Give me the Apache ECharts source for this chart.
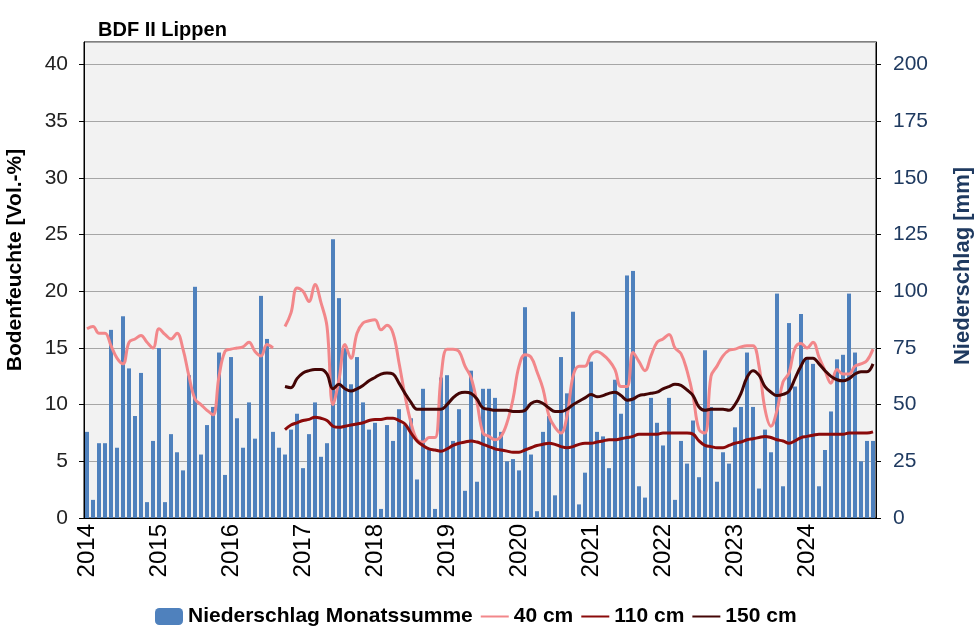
<!DOCTYPE html>
<html>
<head>
<meta charset="utf-8">
<title>BDF II Lippen</title>
<script src="https://cdn.jsdelivr.net/npm/echarts@6/dist/echarts.min.js"></script>
<style>
  html, body { margin: 0; padding: 0; background: #fff; }
  #chart { width: 977px; height: 631px; }
</style>
</head>
<body>
<div id="chart"></div>
<script>
var years = ['2014', '2015', '2016', '2017', '2018', '2019', '2020', '2021', '2022', '2023', '2024'];

// Niederschlag Monatssumme [mm], Jan 2014 .. Dez 2024
var niederschlag = [
  38, 8, 33, 33, 83, 31, 89, 66, 45, 64, 7, 34,
  75, 7, 37, 29, 21, 63, 102, 28, 41, 49, 73, 19,
  71, 44, 31, 51, 35, 98, 79, 38, 31, 28, 39, 46,
  22, 37, 51, 27, 33, 123, 97, 75, 59, 71, 51, 39,
  42, 4, 41, 34, 48, 41, 44, 17, 57, 30, 4, 62,
  63, 34, 48, 12, 65, 16, 57, 57, 53, 38, 25, 26,
  21, 93, 28, 3, 38, 45, 10, 71, 55, 91, 6, 20,
  69, 38, 36, 22, 61, 46, 107, 109, 14, 9, 53, 42,
  32, 53, 8, 34, 24, 43, 18, 74, 49, 16, 29, 24,
  40, 49, 73, 49, 13, 39, 29, 99, 14, 86, 58, 90,
  70, 68, 14, 30, 47, 70, 72, 99, 73, 25, 34, 34
];

// Bodenfeuchte [Vol.-%], Monatswerte, null = keine Messung
var cm40 = [
  16.7, 16.9, 16.3, 16.3, 15.2, 14.1, 13.6, 15.5, 15.8, 16.1, 15.5, 15.0,
  16.7, 16.2, 15.8, 16.3, 14.9, 12.5, 10.5, 10.0, 9.5, 9.1, 12.5, 14.7,
  14.9, 15.0, 15.1, 15.5, 14.7, 14.3, 15.3, 15.0, null, 16.9, 18.1, 20.3,
  20.0, 19.1, 20.6, 19.0, 16.9, 10.0, 12.2, 15.3, 14.1, 16.3, 17.2, 17.4,
  17.5, 16.6, 17.0, 16.3, 13.7, 10.8, 8.4, 6.9, 6.7, 7.1, 7.1, 12.4,
  14.9, 14.9, 14.7, 13.4, 12.4, 10.2, 7.5, 7.2, 6.9, 7.2, 8.4, 10.5,
  13.4, 14.4, 14.2, 12.9, 11.4, 9.0, 8.0, 7.5, 9.0, 12.5, 13.4, 13.4,
  14.4, 14.7, 14.4, 13.9, 13.1, 11.6, 11.6, 14.6, 13.8, 13.0, 14.3, 15.5,
  15.8, 16.2, 15.0, 14.5, 13.0, 10.8, 7.8, 7.5, 12.5, 13.4, 14.3, 14.8,
  14.9, 15.1, 15.2, 15.2, 13.4, 9.6, 8.1, 9.5, 12.0, 12.8, 15.0, 15.4,
  15.0, 15.5, 14.2, 13.0, 11.9, 13.1, 12.7, 12.7, 13.4, 13.6, 13.9, 14.9
];

var cm110 = [
  null, null, null, null, null, null, null, null, null, null, null, null,
  null, null, null, null, null, null, null, null, null, null, null, null,
  null, null, null, null, null, null, null, null, null, 7.8, 8.2, 8.4,
  8.6, 8.7, 8.9, 8.8, 8.6, 8.1, 8.0, 8.1, 8.2, 8.3, 8.4, 8.6,
  8.7, 8.7, 8.8, 8.8, 8.6, 8.3, 7.5, 6.8, 6.4, 6.1, 6.0, 5.9,
  6.1, 6.4, 6.6, 6.7, 6.8, 6.7, 6.5, 6.3, 6.1, 6.0, 5.9, 5.8,
  5.8, 6.0, 6.2, 6.4, 6.5, 6.6, 6.5, 6.3, 6.2, 6.3, 6.5, 6.6,
  6.6, 6.7, 6.8, 6.9, 6.9, 7.0, 7.1, 7.2, 7.4, 7.4, 7.4, 7.4,
  7.5, 7.5, 7.5, 7.5, 7.5, 7.4, 6.8, 6.4, 6.3, 6.2, 6.2, 6.4,
  6.6, 6.7, 6.9, 7.0, 7.1, 7.2, 7.1, 6.9, 6.8, 6.6, 6.8, 7.1,
  7.2, 7.3, 7.4, 7.4, 7.4, 7.4, 7.4, 7.5, 7.5, 7.5, 7.5, 7.6
];

var cm150 = [
  null, null, null, null, null, null, null, null, null, null, null, null,
  null, null, null, null, null, null, null, null, null, null, null, null,
  null, null, null, null, null, null, null, null, null, 11.6, 11.5, 12.3,
  12.8, 13.0, 13.1, 13.1, 12.7, 11.4, 11.8, 11.4, 11.2, 11.4, 11.7, 12.1,
  12.4, 12.7, 12.8, 12.7, 11.9, 11.0, 10.2, 9.6, 9.6, 9.6, 9.6, 9.6,
  10.0, 10.6, 11.0, 11.1, 11.0, 10.5, 9.7, 9.6, 9.5, 9.5, 9.5, 9.4,
  9.4, 9.5, 10.1, 10.3, 10.1, 9.7, 9.4, 9.4, 9.6, 10.0, 10.3, 10.6,
  10.9, 10.7, 10.8, 11.0, 11.1, 10.8, 10.4, 10.5, 10.8, 10.9, 11.0, 11.1,
  11.4, 11.6, 11.8, 11.7, 11.3, 10.8, 9.8, 9.5, 9.6, 9.6, 9.6, 9.5,
  10.0, 11.0, 12.4, 13.0, 12.6, 11.6, 11.1, 10.8, 10.9, 11.2, 12.3, 13.4,
  14.1, 14.1, 13.6, 13.0, 12.5, 12.2, 12.1, 12.3, 12.7, 12.9, 12.9, 13.6
];

// Monatskategorien, Beschriftung nur im Januar
var monate = [];
for (var i = 0; i < niederschlag.length; i++) {
  monate.push(years[Math.floor(i / 12)] + '-' + (i % 12 + 1));
}

var font = 'Arial, "Liberation Sans", sans-serif';
var navy = '#1f3a60';
var noSymbol = { opacity: 0 };

var chart = echarts.init(document.getElementById('chart'));
var option = {
  backgroundColor: '#fff',
  animation: false,
  title: {
    text: 'BDF II Lippen',
    left: 93,
    top: 15,
    textStyle: { fontFamily: font, fontSize: 20, fontWeight: 'bold', color: '#000' }
  },
  legend: {
    left: 150,
    top: 601,
    itemWidth: 28,
    itemHeight: 17,
    itemGap: 7,
    textStyle: { fontFamily: font, fontSize: 21, fontWeight: 'bold', color: '#000' },
    data: [
      { name: 'Niederschlag Monatssumme' },
      { name: '40 cm', itemStyle: noSymbol },
      { name: '110 cm', itemStyle: noSymbol },
      { name: '150 cm', itemStyle: noSymbol }
    ]
  },
  grid: {
    left: 84,
    right: 101,
    top: 42,
    bottom: 113,
    outerBoundsMode: 'none',
    show: true,
    backgroundColor: '#f2f2f2',
    borderColor: '#000',
    borderWidth: 1
  },
  xAxis: {
    type: 'category',
    data: monate,
    boundaryGap: true,
    axisLine: { lineStyle: { color: '#000', width: 1 } },
    axisTick: {
      length: 6,
      lineStyle: { color: '#000' },
      interval: function (idx) { return idx % 12 === 0; }
    },
    axisLabel: {
      rotate: 90,
      margin: 6,
      fontFamily: font,
      fontSize: 24,
      color: '#000',
      interval: function (idx) { return idx % 12 === 0; },
      formatter: function (v) { return v.split('-')[0]; }
    },
    splitLine: { show: false }
  },
  yAxis: [
    {
      type: 'value',
      min: 0,
      max: 42,
      interval: 5,
      name: 'Bodenfeuchte [Vol.-%]',
      nameLocation: 'middle',
      nameGap: 58,
      nameTextStyle: { fontFamily: font, fontSize: 21, fontWeight: 'bold', color: '#000', padding: [0, 0, 0, 40] },
      axisLine: { show: true, lineStyle: { color: '#000' } },
      axisTick: { show: true, length: 5, lineStyle: { color: '#000' } },
      axisLabel: { fontFamily: font, fontSize: 21, color: '#222', margin: 16, showMaxLabel: false },
      splitLine: { show: true, lineStyle: { color: '#a6a6a6', width: 1 } }
    },
    {
      type: 'value',
      min: 0,
      max: 210,
      interval: 25,
      position: 'right',
      name: 'Niederschlag [mm]',
      nameLocation: 'middle',
      nameGap: 76,
      nameTextStyle: { fontFamily: font, fontSize: 22, fontWeight: 'bold', color: navy, padding: [0, 0, 0, 28] },
      axisLine: { show: true, lineStyle: { color: '#000' } },
      axisTick: { show: true, length: 5, lineStyle: { color: '#000' } },
      axisLabel: { fontFamily: font, fontSize: 21, color: navy, margin: 17, showMaxLabel: false },
      splitLine: { show: false }
    }
  ],
  series: [
    {
      name: 'Niederschlag Monatssumme',
      type: 'bar',
      yAxisIndex: 1,
      barWidth: 4,
      itemStyle: { color: '#4f81bd' },
      data: niederschlag
    },
    {
      name: '40 cm',
      type: 'line',
      yAxisIndex: 0,
      smooth: 0.4,
      symbol: 'none',
      connectNulls: false,
      lineStyle: { color: '#f2878a', width: 3 },
      itemStyle: { color: '#f2878a' },
      data: cm40
    },
    {
      name: '110 cm',
      type: 'line',
      yAxisIndex: 0,
      smooth: 0.4,
      symbol: 'none',
      lineStyle: { color: '#8b0a0a', width: 3 },
      itemStyle: { color: '#8b0a0a' },
      data: cm110
    },
    {
      name: '150 cm',
      type: 'line',
      yAxisIndex: 0,
      smooth: 0.4,
      symbol: 'none',
      lineStyle: { color: '#440505', width: 3 },
      itemStyle: { color: '#440505' },
      data: cm150
    }
  ]
};
chart.setOption(option);
</script>
</body>
</html>
